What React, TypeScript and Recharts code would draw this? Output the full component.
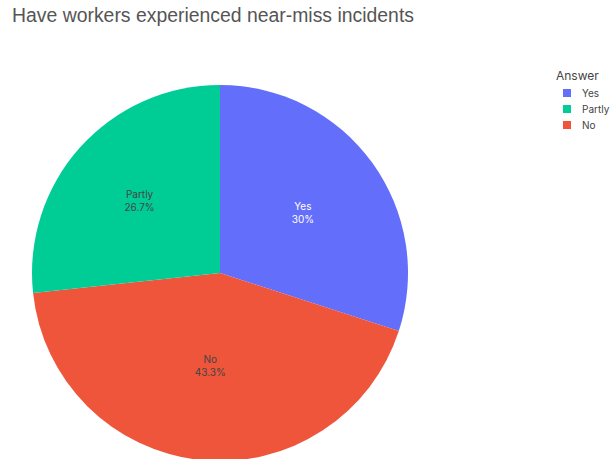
import { PieChart, Pie, Cell, Legend } from 'recharts';

// slices in clockwise draw order (from 12 o'clock)
const answers = ['Yes', 'No', 'Partly'];
const shares = [30, 43.3, 26.7];
const colors = ['#636efa', '#ef553b', '#00cc96'];
const labelColors = ['#ffffff', '#444444', '#444444'];

// legend order as shown in the reference
const legendOrder = ['Yes', 'Partly', 'No'];

const data = answers.map((name, i) => ({ name, value: shares[i] }));

const RADIAN = Math.PI / 180;
// inside-text sits at slightly different depths per slice
const labelDepth = [0.545, 0.5, 0.575];

const renderLabel = (props: any) => {
  const { cx, cy, midAngle, outerRadius, index } = props;
  const r = outerRadius * labelDepth[index];
  const x = cx + r * Math.cos(-midAngle * RADIAN);
  const y = cy + r * Math.sin(-midAngle * RADIAN);
  return (
    <text
      x={x}
      y={y}
      fill={labelColors[index]}
      textAnchor="middle"
      fontSize={10}
      fontFamily="Inter, 'Liberation Sans', sans-serif"
    >
      <tspan x={x} dy={-3}>{answers[index]}</tspan>
      <tspan x={x} dy={13}>{`${shares[index]}%`}</tspan>
    </text>
  );
};

const renderLegend = () => (
  <div style={{ fontFamily: "Inter, 'Liberation Sans', sans-serif", color: '#444' }}>
    <div style={{ fontSize: 12, marginBottom: 2 }}>Answer</div>
    {legendOrder.map((name) => (
      <div key={name} style={{ display: 'flex', alignItems: 'center', height: 16, fontSize: 10, paddingLeft: 7 }}>
        <span
          style={{
            display: 'inline-block',
            width: 8,
            height: 8,
            background: colors[answers.indexOf(name)],
            marginRight: 11,
          }}
        />
        {name}
      </div>
    ))}
  </div>
);

export default function App() {
  return (
    <div style={{ position: 'absolute', left: 0, top: 0, width: 611, height: 459, background: '#fff', overflow: 'hidden' }}>
      <div
        style={{
          position: 'absolute',
          left: 12,
          top: 4,
          fontSize: 19.4,
          color: '#555',
          fontFamily: "'Liberation Sans', Arial, sans-serif",
        }}
      >
        Have workers experienced near-miss incidents
      </div>
      <PieChart width={611} height={459} margin={{ top: 0, right: 0, bottom: 0, left: 0 }}>
        <Pie
          data={data}
          dataKey="value"
          nameKey="name"
          cx={220}
          cy={273}
          outerRadius={188}
          startAngle={90}
          endAngle={-270}
          stroke="none"
          label={renderLabel}
          labelLine={false}
          isAnimationActive={false}
        >
          {data.map((d, i) => (
            <Cell key={d.name} fill={colors[i]} />
          ))}
        </Pie>
        <Legend
          content={renderLegend}
          layout="vertical"
          wrapperStyle={{ position: 'absolute', left: 556, top: 68, width: 60 }}
        />
      </PieChart>
    </div>
  );
}
